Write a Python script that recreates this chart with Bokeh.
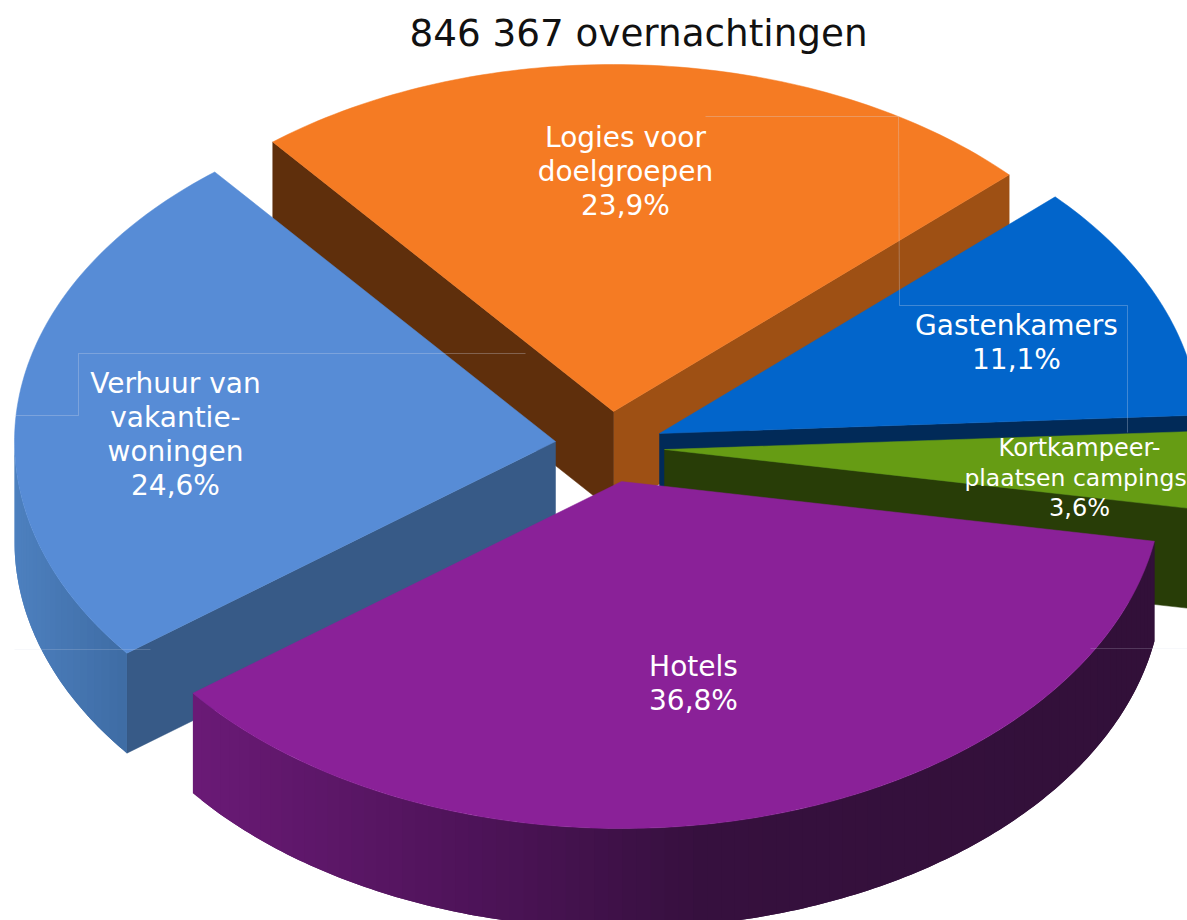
import math
from bokeh.plotting import figure
from bokeh.models import Range1d, ColumnDataSource
from bokeh.core.properties import value
from bokeh.embed import file_html
from bokeh.resources import INLINE

# --- data ---
title_text = "846 367 overnachtingen"
categories = ["Logies voor doelgroepen", "Verhuur van vakantiewoningen", "Hotels",
              "Kortkampeerplaatsen campings", "Gastenkamers"]
shares = [23.9, 24.6, 36.8, 3.6, 11.1]
label_lines = [
    ["Logies voor", "doelgroepen", "23,9%"],
    ["Verhuur van", "vakantie-", "woningen", "24,6%"],
    ["Hotels", "36,8%"],
    ["Kortkampeer-", "plaatsen campings", "3,6%"],
    ["Gastenkamers", "11,1%"],
]

# --- layout / style ---
START = 43.0
RX, RY, DEPTH = 541.0, 347.0, 100.0
apex = [(613, 411), (555, 441), (621, 481), (664, 449), (659, 433)]
top_col = ["#F57B23", "#578CD6", "#8A2198", "#669C14", "#0265CB"]
# wall seen along the slice's start angle / end angle (None: faces away)
start_wall = ["#9E5014", None, None, "#283D07", "#012A58"]
end_wall = ["#5F2F0C", "#375A87", None, None, None]
# outer rim colours as (x, colour) stops
rim_stops = [
    None,
    [(14, "#4D80BF"), (126, "#3E6CA4")],
    [(192, "#6A1A76"), (480, "#4D1358"), (700, "#36103E"), (1155, "#321039")],
    None, None,
]
label_pos = [(625, 137), (175, 383), (693, 666), (1079, 447), (1016, 325)]
label_step = [34, 34, 34, 30, 34]
label_size = [28, 28, 28, 24, 28]
# the long camping line is nudged and slightly reduced so that it stays in the picture
line_tweak = {(3, 1): (-4, 23.5)}
draw_order = [0, 4, 3, 1, 2]

p = figure(width=1187, height=920, x_range=Range1d(0, 1187), y_range=Range1d(920, 0),
           output_backend="svg", toolbar_location=None, min_border=0)
p.axis.visible = False
p.grid.visible = False
p.outline_line_color = None
p.background_fill_color = "white"


def pt(c, deg, dz=0.0):
    a = math.radians(deg)
    return c[0] + RX * math.cos(a), c[1] - RY * math.sin(a) + dz


def hexrgb(h):
    return tuple(int(h[i:i + 2], 16) for i in (1, 3, 5))


def rim_colour(stops, x):
    if x <= stops[0][0]:
        return stops[0][1]
    for (x0, c0), (x1, c1) in zip(stops, stops[1:]):
        if x <= x1:
            f = (x - x0) / (x1 - x0)
            a, b = hexrgb(c0), hexrgb(c1)
            return "#%02x%02x%02x" % tuple(round(u + (v - u) * f) for u, v in zip(a, b))
    return stops[-1][1]


def arc(c, a0, a1, dz=0.0, n=None):
    n = n or max(2, int(abs(a1 - a0) / 1.0))
    return [pt(c, a0 + (a1 - a0) * i / n, dz) for i in range(n + 1)]


def poly(points, colour):
    p.patch([q[0] for q in points], [q[1] for q in points], fill_color=colour,
            line_color=colour, line_width=0.5)


# slice angles come from the shares
angles = []
cur = START
for s in shares:
    angles.append((cur, cur + s * 3.6))
    cur += s * 3.6

for i in draw_order:
    a0, a1 = angles[i]
    c = apex[i]
    below = (c[0], c[1] + DEPTH)
    # radial walls
    for ang, col in ((a0, start_wall[i]), (a1, end_wall[i])):
        if col:
            poly([c, pt(c, ang), pt(c, ang, DEPTH), below], col)
    # outer rim, only where it faces the viewer; strips overlap to hide seams
    if rim_stops[i]:
        lo, hi = max(a0, 180.0), min(a1, 360.0)
        step = 1.5
        t = lo
        xs, ys, cols = [], [], []
        while t < hi:
            t2 = min(t + step, hi)
            t3 = min(t + 2 * step, hi)
            shape = arc(c, t, t3, 0, 4) + arc(c, t3, t, DEPTH, 4)
            xs.append([q[0] for q in shape])
            ys.append([q[1] for q in shape])
            mid = pt(c, (t + t2) / 2)
            cols.append(rim_colour(rim_stops[i], mid[0]))
            t = t2
        p.patches(xs, ys, fill_color=cols, line_color=None)
    # top face
    poly([c] + arc(c, a0, a1), top_col[i])

# faint leader lines left in the picture
faint = [
    ([705, 898, 899, 1127, 1127], [116, 116, 305, 305, 432], 0.3),
    ([525, 78, 78, 14], [353, 353, 415, 415], 0.3),
    ([14, 150], [649, 649], 0.2),
    ([1090, 1187], [648, 648], 0.2),
]
for fx, fy, fa in faint:
    p.line(fx, fy, line_color="#d5dcea", line_alpha=fa, line_width=1)

# texts
for n, (lines, (lx, ly), st, sz) in enumerate(zip(label_lines, label_pos, label_step, label_size)):
    for k, line in enumerate(lines):
        dx, fs = line_tweak.get((n, k), (0, sz))
        p.text([lx + dx], [ly + k * st], text=[line], text_color="white", text_align="center",
               text_baseline="middle", text_font=value("DejaVu Sans"),
               text_font_size=f"{fs}px")

p.text([638], [32], text=[title_text], text_color="#111111", text_align="center",
       text_baseline="middle", text_font=value("DejaVu Sans"), text_font_size="37.3px")

open("out.html", "w").write(file_html(p, INLINE))
